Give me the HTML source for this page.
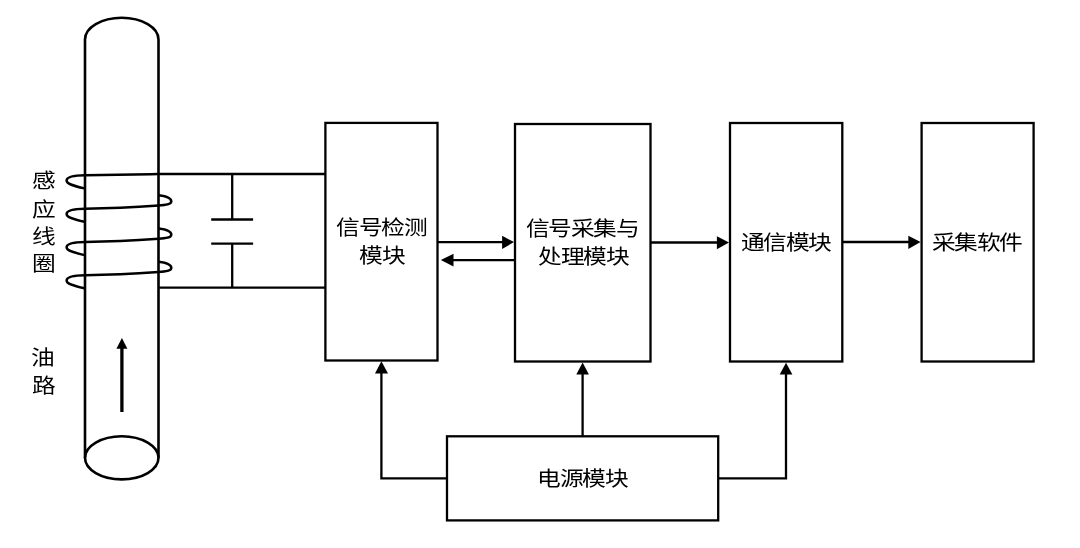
<!DOCTYPE html>
<html lang="zh-CN">
<head>
<meta charset="utf-8">
<style>
html,body{margin:0;padding:0;background:#fff;}
body{width:1080px;height:548px;overflow:hidden;position:relative;}
svg{position:absolute;left:0;top:0;will-change:transform;}
text{font-family:"Liberation Serif", serif;font-size:22px;fill:#000;}
</style>
</head>
<body>
<svg width="1080" height="548" viewBox="0 0 1080 548">
<g fill="none" stroke="#000" stroke-width="2.6">
  <path d="M85,457.8 L85,39.5 A36.75,21.7 0 0 1 158.5,39.5 L158.5,457.8"/>
  <ellipse cx="121.75" cy="457.8" rx="36.75" ry="21.6"/>
</g>
<g fill="none" stroke="#000" stroke-width="2.5" stroke-linecap="butt">
  <path d="M325.4,173.9 L158.5,174.1 C130,174.5 100,174.9 85.2,175.3 C75,175.4 66.6,176.3 66.6,180.6 C66.6,183.9 73,185.8 84.5,188.4"/>
  <path d="M158.6,195.2 C164,195.8 171.3,197.6 171.3,201.5 C171.3,204.3 166,205 158.6,205.4 C148,206.1 115,208.1 85.2,208.7 C75,208.8 66.6,209.7 66.6,214 C66.6,217.3 73,219.2 84.5,221.8"/>
  <path d="M158.6,228.5 C164,229.1 171.3,230.9 171.3,234.8 C171.3,237.6 166,238.3 158.6,238.7 C148,239.4 115,241.4 85.2,242 C75,242.1 66.6,243 66.6,247.3 C66.6,250.6 73,252.5 84.5,255.1"/>
  <path d="M158.6,261.7 C164,262.3 171.3,264.1 171.3,268 C171.3,270.8 166,271.5 158.6,271.9 C148,272.6 115,274.6 85.2,275.2 C75,275.3 66.6,276.2 66.6,280.5 C66.6,283.8 73,285.7 84.5,288.3"/>
</g>
<g fill="none" stroke="#000" stroke-width="2.3">
  <line x1="158.5" y1="287.6" x2="325.4" y2="287.6"/>
  <line x1="232.2" y1="173.9" x2="232.2" y2="219.5"/>
  <line x1="232.2" y1="243.6" x2="232.2" y2="287.6"/>
  <line x1="211.2" y1="219.5" x2="253.1" y2="219.5"/>
  <line x1="211.2" y1="243.6" x2="253.1" y2="243.6"/>
  <rect x="325.4" y="122.9" width="112.1" height="237.6"/>
  <rect x="515" y="124" width="135.5" height="237.5"/>
  <rect x="730" y="123" width="112.3" height="238.5"/>
  <rect x="921.6" y="123" width="112" height="238.5"/>
  <rect x="447" y="436.3" width="271.2" height="84.1"/>
  <line x1="437.5" y1="242.1" x2="503" y2="242.1"/>
  <line x1="452" y1="260.1" x2="515" y2="260.1"/>
  <line x1="650.5" y1="242.5" x2="718" y2="242.5"/>
  <line x1="842.3" y1="242" x2="909" y2="242"/>
  <polyline points="447,478.3 381.4,478.3 381.4,373"/>
  <line x1="582.6" y1="436.3" x2="582.6" y2="374"/>
  <polyline points="718.2,478.3 786,478.3 786,374"/>
  <line x1="121.9" y1="412" x2="121.9" y2="348" stroke-width="3.3"/>
</g>
<g fill="#000" stroke="none">
  <polygon points="502.1,235.8 514,242.1 502.1,248.9"/>
  <polygon points="453.5,253.8 440.8,260.1 453.5,266.6"/>
  <polygon points="716.9,236.3 729,242.5 716.9,249.2"/>
  <polygon points="908.3,235.8 920.6,242 908.3,248.9"/>
  <polygon points="375,373.6 381.4,361.3 388,373.6"/>
  <polygon points="576.3,374.4 582.6,362.4 588.9,374.4"/>
  <polygon points="779.7,374.4 786,362.7 792.4,374.4"/>
  <polygon points="116.4,348.8 121.9,337.9 127.4,348.8"/>
</g>
<g>
  <text x="381.5" y="235.65" text-anchor="middle" letter-spacing="-0.9" transform="translate(381.5,227.65) scale(1.08,0.94) translate(-381.5,-227.65)">信号检测</text>
  <text x="381.55" y="263.5" text-anchor="middle" letter-spacing="-0.9" transform="translate(381.55,255.5) scale(1.08,0.94) translate(-381.55,-255.5)">模块</text>
  <text x="582.1" y="236.15" text-anchor="middle" letter-spacing="-0.9" transform="translate(582.1,228.15) scale(1.08,0.94) translate(-582.1,-228.15)">信号采集与</text>
  <text x="583.5" y="264.35" text-anchor="middle" letter-spacing="-0.9" transform="translate(583.5,256.35) scale(1.08,0.94) translate(-583.5,-256.35)">处理模块</text>
  <text x="785.55" y="250.25" text-anchor="middle" letter-spacing="-0.9" transform="translate(785.55,242.25) scale(1.08,0.94) translate(-785.55,-242.25)">通信模块</text>
  <text x="976.9" y="250" text-anchor="middle" letter-spacing="-0.9" transform="translate(976.9,242) scale(1.08,0.94) translate(-976.9,-242)">采集软件</text>
  <text x="582.35" y="486" text-anchor="middle" letter-spacing="-0.9" transform="translate(582.35,478) scale(1.08,0.94) translate(-582.35,-478)">电源模块</text>
  <text x="43.05" y="188.4" text-anchor="middle" letter-spacing="-0.9" transform="translate(43.05,180.4) scale(1.08,0.94) translate(-43.05,-180.4)">感</text>
  <text x="43.35" y="217.2" text-anchor="middle" letter-spacing="-0.9" transform="translate(43.35,209.2) scale(1.08,0.94) translate(-43.35,-209.2)">应</text>
  <text x="43.35" y="244.1" text-anchor="middle" letter-spacing="-0.9" transform="translate(43.35,236.1) scale(1.08,0.94) translate(-43.35,-236.1)">线</text>
  <text x="43.35" y="271.2" text-anchor="middle" letter-spacing="-0.9" transform="translate(43.35,263.2) scale(1.08,0.94) translate(-43.35,-263.2)">圈</text>
  <text x="42.65" y="365.25" text-anchor="middle" letter-spacing="-0.9" transform="translate(42.65,357.25) scale(1.08,0.94) translate(-42.65,-357.25)">油</text>
  <text x="43.6" y="393.1" text-anchor="middle" letter-spacing="-0.9" transform="translate(43.6,385.1) scale(1.08,0.94) translate(-43.6,-385.1)">路</text>
</g>
</svg>
</body>
</html>
